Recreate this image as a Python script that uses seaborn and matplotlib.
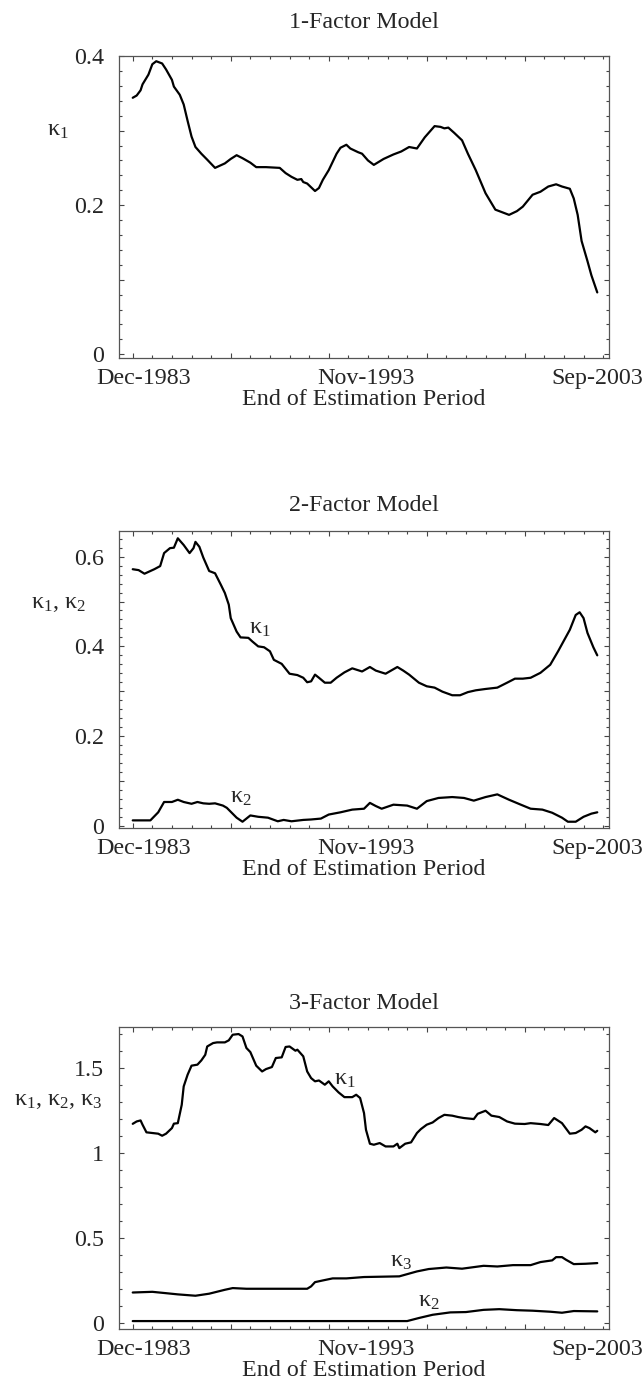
import numpy as np
import pandas as pd
import matplotlib
matplotlib.use("Agg")
import matplotlib.pyplot as plt
import matplotlib.transforms as mtransforms
import seaborn as sns
from matplotlib.ticker import MultipleLocator

# x is the month index counted from Dec-1983 (0) to Sep-2003 (237)
date_ticks = [0, 119, 237]
date_labels = ["Dec-1983", "Nov-1993", "Sep-2003"]

# 1-factor model
m1_k1 = [0, 2, 4, 5, 8, 10, 12, 15, 17, 20, 21, 24, 26, 28, 30, 32, 35, 38, 42, 47,
         50, 53, 56, 60, 63, 68, 75, 78, 81, 84, 86, 87, 89, 93, 95, 97, 100, 104, 106,
         109, 111, 115, 117, 120, 123, 128, 133, 137, 141, 145, 149, 154, 157, 159, 161,
         164, 168, 171, 175, 180, 185, 189, 192, 196, 199, 204, 208, 212, 216, 219, 223,
         225, 227, 229, 232, 234, 237]
v1_k1 = [0.344, 0.347, 0.354, 0.362, 0.375, 0.389, 0.393, 0.390, 0.382, 0.368, 0.359,
         0.348, 0.335, 0.313, 0.292, 0.278, 0.269, 0.261, 0.250, 0.256, 0.262, 0.267,
         0.263, 0.257, 0.251, 0.251, 0.250, 0.243, 0.238, 0.234, 0.235, 0.231, 0.229,
         0.219, 0.223, 0.234, 0.247, 0.269, 0.277, 0.281, 0.276, 0.271, 0.269, 0.260,
         0.254, 0.262, 0.268, 0.272, 0.278, 0.276, 0.291, 0.306, 0.305, 0.303, 0.304,
         0.297, 0.287, 0.269, 0.247, 0.216, 0.194, 0.190, 0.187, 0.192, 0.198, 0.214,
         0.218, 0.225, 0.228, 0.225, 0.222, 0.209, 0.187, 0.152, 0.125, 0.106, 0.083]

# 2-factor model
m2_k1 = [0, 3, 6, 9, 11, 14, 16, 19, 21, 23, 26, 29, 31, 32, 34, 36, 39, 42, 45, 47,
         49, 50, 53, 55, 59, 61, 64, 67, 70, 72, 76, 80, 84, 87, 89, 91, 93, 95, 98, 101,
         104, 108, 112, 117, 121, 124, 129, 131, 135, 138, 141, 146, 150, 154, 158, 163,
         167, 171, 175, 180, 186, 191, 195, 199, 203, 208, 213, 217, 223, 226, 228, 230,
         232, 235, 237]
v2_k1 = [0.572, 0.570, 0.562, 0.568, 0.572, 0.579, 0.608, 0.619, 0.620, 0.641, 0.626,
         0.608, 0.619, 0.633, 0.622, 0.598, 0.568, 0.563, 0.537, 0.519, 0.493, 0.463,
         0.433, 0.420, 0.419, 0.411, 0.400, 0.398, 0.389, 0.370, 0.361, 0.339, 0.336,
         0.330, 0.320, 0.322, 0.337, 0.330, 0.319, 0.319, 0.330, 0.342, 0.351, 0.344,
         0.354, 0.346, 0.339, 0.344, 0.354, 0.346, 0.337, 0.319, 0.311, 0.308, 0.299,
         0.291, 0.291, 0.298, 0.302, 0.305, 0.308, 0.319, 0.328, 0.328, 0.330, 0.341,
         0.359, 0.389, 0.437, 0.470, 0.476, 0.463, 0.430, 0.398, 0.380]
m2_k2 = [0, 9, 13, 16, 20, 23, 26, 30, 33, 36, 39, 42, 46, 48, 53, 56, 60, 64, 69, 74,
         77, 81, 87, 91, 96, 100, 106, 112, 118, 121, 124, 127, 133, 140, 145, 150, 156,
         163, 169, 174, 180, 186, 192, 198, 203, 209, 214, 219, 222, 226, 230, 234, 237]
v2_k2 = [0.012, 0.012, 0.030, 0.053, 0.053, 0.058, 0.053, 0.049, 0.053, 0.050, 0.049,
         0.050, 0.045, 0.040, 0.018, 0.009, 0.023, 0.020, 0.018, 0.010, 0.013, 0.010,
         0.013, 0.014, 0.016, 0.025, 0.030, 0.036, 0.038, 0.051, 0.044, 0.038, 0.047,
         0.045, 0.038, 0.055, 0.062, 0.064, 0.062, 0.056, 0.064, 0.070, 0.058, 0.047,
         0.038, 0.036, 0.029, 0.018, 0.009, 0.009, 0.020, 0.027, 0.030]

# 3-factor model
m3_k1 = [0, 2, 4, 5, 7, 10, 13, 15, 17, 20, 21, 23, 25, 26, 28, 30, 33, 35, 37, 38,
         41, 43, 47, 49, 51, 54, 56, 58, 60, 63, 66, 68, 71, 73, 76, 78, 80, 83, 84, 87,
         89, 91, 93, 95, 98, 100, 102, 105, 108, 112, 114, 116, 118, 119, 121, 123, 126,
         129, 133, 135, 136, 139, 142, 145, 147, 150, 153, 156, 159, 163, 166, 169, 174,
         176, 180, 183, 187, 191, 195, 200, 203, 208, 212, 215, 219, 223, 226, 229, 231,
         233, 236, 237]
v3_k1 = [1.172, 1.186, 1.192, 1.167, 1.122, 1.118, 1.114, 1.102, 1.114, 1.147, 1.173,
         1.176, 1.284, 1.392, 1.461, 1.514, 1.520, 1.545, 1.578, 1.627, 1.647, 1.651,
         1.651, 1.663, 1.696, 1.700, 1.686, 1.618, 1.594, 1.514, 1.480, 1.494, 1.506,
         1.559, 1.563, 1.624, 1.627, 1.602, 1.608, 1.569, 1.480, 1.441, 1.422, 1.427,
         1.402, 1.422, 1.392, 1.357, 1.329, 1.329, 1.343, 1.324, 1.235, 1.137, 1.055,
         1.049, 1.059, 1.039, 1.039, 1.055, 1.029, 1.055, 1.063, 1.118, 1.141, 1.167,
         1.180, 1.206, 1.225, 1.220, 1.212, 1.206, 1.200, 1.231, 1.249, 1.220, 1.212,
         1.186, 1.173, 1.171, 1.176, 1.171, 1.165, 1.206, 1.176, 1.114, 1.118, 1.137,
         1.157, 1.147, 1.122, 1.131]
m3_k2 = [0, 60, 120, 140, 146, 153, 162, 170, 179, 187, 196, 204, 213, 219, 225, 237]
v3_k2 = [0.012, 0.012, 0.012, 0.012, 0.030, 0.049, 0.063, 0.065, 0.078, 0.082, 0.076,
         0.073, 0.067, 0.061, 0.071, 0.069]
m3_k3 = [0, 10, 17, 23, 32, 39, 47, 51, 58, 68, 78, 89, 91, 93, 97, 102, 109, 118, 136,
         145, 151, 160, 168, 179, 186, 194, 203, 208, 214, 216, 219, 221, 225, 231, 237]
v3_k3 = [0.180, 0.184, 0.176, 0.169, 0.161, 0.173, 0.196, 0.206, 0.202, 0.202, 0.202,
         0.202, 0.216, 0.241, 0.251, 0.263, 0.263, 0.271, 0.275, 0.304, 0.318, 0.327,
         0.320, 0.337, 0.333, 0.341, 0.341, 0.359, 0.369, 0.388, 0.388, 0.373, 0.347,
         0.349, 0.353]

sns.set_theme(style="ticks")
plt.rcParams['font.family'] = ['Liberation Serif', 'DejaVu Serif']
plt.rcParams['mathtext.fontset'] = 'custom'
plt.rcParams['mathtext.rm'] = 'Liberation Serif'
plt.rcParams['mathtext.it'] = 'Liberation Serif:italic'

FS = 17.3
fig = plt.figure(figsize=(6.44, 13.83), dpi=100)

# panel boxes in figure fractions (left, bottom, width, height)
boxes = [
    [0.1848, 0.7411, 0.7609, 0.2184],
    [0.1848, 0.4013, 0.7609, 0.2150],
    [0.1848, 0.0390, 0.7609, 0.2186],
]

panels = [
    {"title": "1-Factor Model", "ylabel": "κ$_1$", "ylim": (-0.005, 0.4),
     "yticks": [0, 0.1, 0.2, 0.3, 0.4], "ylabels": ["0", "", "0.2", "", "0.4"],
     "yminor": 0.02, "title_pad": 20,
     "series": [(m1_k1, v1_k1)], "notes": []},
    {"title": "2-Factor Model", "ylabel": "κ$_1$, κ$_2$", "ylim": (-0.005, 0.658),
     "yticks": [0, 0.1, 0.2, 0.3, 0.4, 0.5, 0.6],
     "ylabels": ["0", "", "0.2", "", "0.4", "", "0.6"],
     "yminor": 0.02, "title_pad": 14,
     "series": [(m2_k1, v2_k1), (m2_k2, v2_k2)],
     "notes": [(65, 0.44, "κ$_1$"), (55, 0.062, "κ$_2$")]},
    {"title": "3-Factor Model", "ylabel": "κ$_1$, κ$_2$, κ$_3$", "ylim": (-0.035, 1.743),
     "yticks": [0, 0.5, 1, 1.5], "ylabels": ["0", "0.5", "1", "1.5"],
     "yminor": 0.1, "title_pad": 13,
     "series": [(m3_k1, v3_k1), (m3_k2, v3_k2), (m3_k3, v3_k3)],
     "notes": [(108, 1.435, "κ$_1$"), (137, 0.362, "κ$_3$"), (151, 0.127, "κ$_2$")]},
]

# first date label sits a little to the right of its tick
nudge = mtransforms.ScaledTranslation(0.11, 0, fig.dpi_scale_trans)

for box, p in zip(boxes, panels):
    ax = fig.add_axes(box)
    for xs, ys in p["series"]:
        sns.lineplot(x=xs, y=ys, ax=ax, color="black", lw=1.6,
                     estimator=None, sort=False)
    for x, y, s in p["notes"]:
        ax.text(x, y, s, ha="center", va="center", fontsize=FS)

    ax.set_xlim(-7, 243)
    ax.set_ylim(*p["ylim"])
    ax.set_xticks(range(0, 241, 50))
    ax.set_xticklabels([])
    ax.xaxis.set_minor_locator(MultipleLocator(10))
    ax.set_yticks(p["yticks"])
    ax.set_yticklabels(p["ylabels"], fontsize=FS)
    ax.yaxis.set_minor_locator(MultipleLocator(p["yminor"]))
    ax.tick_params(which="both", direction="in", top=True, right=True,
                   color="#444444", width=0.8)
    ax.tick_params(which="major", length=3.5)
    ax.tick_params(which="minor", length=2)
    ax.tick_params(axis="y", pad=11)
    for sp in ax.spines.values():
        sp.set_color("#555555")
        sp.set_linewidth(0.9)

    # date labels sit on a second bottom axis without marks
    sec = ax.secondary_xaxis("bottom")
    sec.set_xticks(date_ticks)
    sec.set_xticklabels(date_labels, fontsize=FS)
    sec.tick_params(length=0, pad=7)
    sec.spines["bottom"].set_visible(False)
    sec.set_xlabel("End of Estimation Period", fontsize=FS, labelpad=0)
    first = sec.get_xticklabels()[0]
    first.set_transform(first.get_transform() + nudge)

    ax.set_ylabel(p["ylabel"], rotation=0, fontsize=FS, ha="center", va="center")
    ax.yaxis.set_label_coords(-0.124, 0.755)
    ax.set_title(p["title"], fontsize=FS, pad=p["title_pad"])

fig.savefig("out.png", dpi=100, facecolor="white")
